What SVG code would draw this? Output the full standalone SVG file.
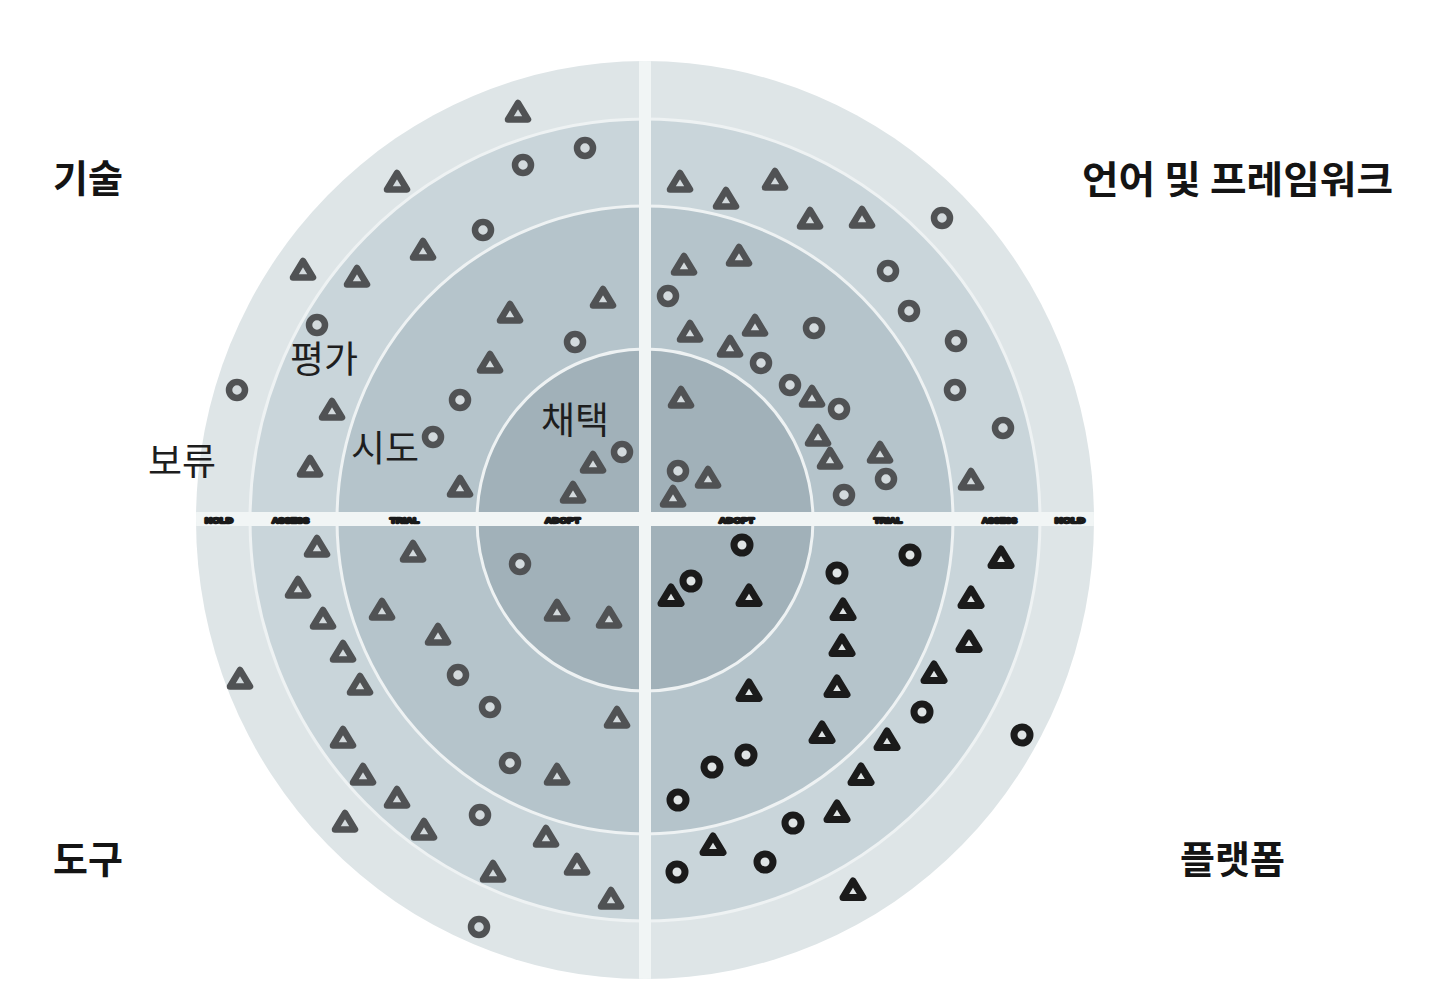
<svg xmlns="http://www.w3.org/2000/svg" xmlns:xlink="http://www.w3.org/1999/xlink" width="1439" height="1006" viewBox="0 0 1439 1006">
<style>
.q{font-family:"Noto Sans CJK KR","Noto Sans",sans-serif;font-weight:700;font-size:38px;fill:#141414}
.r{font-family:"Noto Sans CJK KR","Noto Sans",sans-serif;font-weight:400;font-size:37px;fill:#1e1e1e}
.ax{font-family:"Liberation Sans",Arial,sans-serif;font-weight:700;font-size:8px;fill:#1a1a1a;stroke:#1a1a1a;stroke-width:2.4;stroke-linejoin:round}
.g{fill:#d3dadd;stroke:#505254;stroke-width:6.5;stroke-linejoin:round}
.k{fill:#dfe4e5;stroke:#1b1b1b;stroke-width:7;stroke-linejoin:round}
.sep{fill:none;stroke:#eef2f3;stroke-width:3}
</style>
<defs>
<path id="t" d="M0,-9 L10,7.5 L-10,7.5 Z"/>
<circle id="c" r="8"/>
<clipPath id="disc"><ellipse cx="645" cy="520" rx="449" ry="459"/></clipPath>
</defs>
<rect width="1439" height="1006" fill="#ffffff"/>
<g id="radar">
<ellipse cx="645" cy="520" rx="449" ry="459" fill="#dee5e7"/>
<ellipse cx="645" cy="520" rx="395" ry="401" fill="#c9d5da"/>
<ellipse cx="645" cy="520" rx="308" ry="314" fill="#b5c4cb"/>
<ellipse cx="645" cy="520" rx="168" ry="171" fill="#a1b1b9"/>
<ellipse class="sep" cx="645" cy="520" rx="395" ry="401"/>
<ellipse class="sep" cx="645" cy="520" rx="308" ry="314"/>
<ellipse class="sep" cx="645" cy="520" rx="168" ry="171"/>
<g clip-path="url(#disc)">
<rect x="639" y="50" width="12" height="940" fill="#f1f5f5"/>
<rect x="185" y="512" width="920" height="14" fill="#f1f5f5"/>
</g>
</g>
<g id="axis-labels">
<text class="ax" x="205" y="523" textLength="28" lengthAdjust="spacingAndGlyphs">HOLD</text>
<text class="ax" x="272" y="523" textLength="37" lengthAdjust="spacingAndGlyphs">ASSESS</text>
<text class="ax" x="390" y="523" textLength="29" lengthAdjust="spacingAndGlyphs">TRIAL</text>
<text class="ax" x="545" y="523" textLength="35" lengthAdjust="spacingAndGlyphs">ADOPT</text>
<text class="ax" x="719" y="523" textLength="35" lengthAdjust="spacingAndGlyphs">ADOPT</text>
<text class="ax" x="874" y="523" textLength="28" lengthAdjust="spacingAndGlyphs">TRIAL</text>
<text class="ax" x="982" y="523" textLength="35" lengthAdjust="spacingAndGlyphs">ASSESS</text>
<text class="ax" x="1055" y="523" textLength="30" lengthAdjust="spacingAndGlyphs">HOLD</text>
</g>
<g id="ring-labels">
<text class="r" x="290" y="373">평가</text>
<text class="r" x="148" y="475">보류</text>
<text class="r" x="351" y="462">시도</text>
<text class="r" x="541" y="434">채택</text>
</g>
<g id="quadrant-labels">
<text class="q" x="53" y="192">기술</text>
<text class="q" x="1082" y="193" textLength="311" lengthAdjust="spacingAndGlyphs">언어 및 프레임워크</text>
<text class="q" x="53" y="873">도구</text>
<text class="q" x="1180" y="873">플랫폼</text>
</g>
<g id="techniques">
<use id="b1" xlink:href="#t" class="g" x="518" y="112"/>
<use id="b2" xlink:href="#c" class="g" x="585" y="148"/>
<use id="b3" xlink:href="#c" class="g" x="523" y="165"/>
<use id="b4" xlink:href="#t" class="g" x="397" y="182"/>
<use id="b5" xlink:href="#c" class="g" x="483" y="230"/>
<use id="b6" xlink:href="#t" class="g" x="423" y="250"/>
<use id="b7" xlink:href="#t" class="g" x="303" y="270"/>
<use id="b8" xlink:href="#t" class="g" x="357" y="277"/>
<use id="b9" xlink:href="#t" class="g" x="603" y="298"/>
<use id="b10" xlink:href="#t" class="g" x="510" y="313"/>
<use id="b11" xlink:href="#c" class="g" x="317" y="325"/>
<use id="b12" xlink:href="#c" class="g" x="575" y="342"/>
<use id="b13" xlink:href="#t" class="g" x="490" y="363"/>
<use id="b14" xlink:href="#c" class="g" x="237" y="390"/>
<use id="b15" xlink:href="#c" class="g" x="460" y="400"/>
<use id="b16" xlink:href="#t" class="g" x="332" y="410"/>
<use id="b17" xlink:href="#c" class="g" x="433" y="437"/>
<use id="b18" xlink:href="#c" class="g" x="622" y="452"/>
<use id="b19" xlink:href="#t" class="g" x="593" y="463"/>
<use id="b20" xlink:href="#t" class="g" x="310" y="467"/>
<use id="b21" xlink:href="#t" class="g" x="460" y="487"/>
<use id="b22" xlink:href="#t" class="g" x="573" y="493"/>
</g>
<g id="languages">
<use id="b23" xlink:href="#t" class="g" x="680" y="182"/>
<use id="b24" xlink:href="#t" class="g" x="726" y="199"/>
<use id="b25" xlink:href="#t" class="g" x="775" y="180"/>
<use id="b26" xlink:href="#t" class="g" x="810" y="219"/>
<use id="b27" xlink:href="#t" class="g" x="862" y="218"/>
<use id="b28" xlink:href="#c" class="g" x="942" y="218"/>
<use id="b29" xlink:href="#t" class="g" x="684" y="265"/>
<use id="b30" xlink:href="#t" class="g" x="739" y="256"/>
<use id="b31" xlink:href="#c" class="g" x="888" y="271"/>
<use id="b32" xlink:href="#c" class="g" x="668" y="296"/>
<use id="b33" xlink:href="#c" class="g" x="909" y="311"/>
<use id="b34" xlink:href="#t" class="g" x="690" y="332"/>
<use id="b35" xlink:href="#t" class="g" x="755" y="326"/>
<use id="b36" xlink:href="#c" class="g" x="814" y="328"/>
<use id="b37" xlink:href="#c" class="g" x="956" y="341"/>
<use id="b38" xlink:href="#t" class="g" x="730" y="347"/>
<use id="b39" xlink:href="#c" class="g" x="761" y="363"/>
<use id="b40" xlink:href="#c" class="g" x="790" y="385"/>
<use id="b41" xlink:href="#t" class="g" x="812" y="397"/>
<use id="b42" xlink:href="#c" class="g" x="839" y="409"/>
<use id="b43" xlink:href="#c" class="g" x="955" y="390"/>
<use id="b44" xlink:href="#c" class="g" x="1003" y="428"/>
<use id="b45" xlink:href="#t" class="g" x="681" y="398"/>
<use id="b46" xlink:href="#t" class="g" x="818" y="436"/>
<use id="b47" xlink:href="#t" class="g" x="830" y="459"/>
<use id="b48" xlink:href="#t" class="g" x="880" y="453"/>
<use id="b49" xlink:href="#c" class="g" x="886" y="479"/>
<use id="b50" xlink:href="#c" class="g" x="678" y="471"/>
<use id="b51" xlink:href="#t" class="g" x="708" y="478"/>
<use id="b52" xlink:href="#t" class="g" x="673" y="497"/>
<use id="b53" xlink:href="#t" class="g" x="971" y="480"/>
<use id="b54" xlink:href="#c" class="g" x="844" y="495"/>
</g>
<g id="tools">
<use id="b55" xlink:href="#t" class="g" x="317" y="547"/>
<use id="b56" xlink:href="#t" class="g" x="413" y="552"/>
<use id="b57" xlink:href="#c" class="g" x="520" y="564"/>
<use id="b58" xlink:href="#t" class="g" x="298" y="588"/>
<use id="b59" xlink:href="#t" class="g" x="382" y="610"/>
<use id="b60" xlink:href="#t" class="g" x="323" y="619"/>
<use id="b61" xlink:href="#t" class="g" x="557" y="611"/>
<use id="b62" xlink:href="#t" class="g" x="609" y="618"/>
<use id="b63" xlink:href="#t" class="g" x="438" y="635"/>
<use id="b64" xlink:href="#t" class="g" x="343" y="652"/>
<use id="b65" xlink:href="#c" class="g" x="458" y="675"/>
<use id="b66" xlink:href="#t" class="g" x="360" y="685"/>
<use id="b67" xlink:href="#t" class="g" x="240" y="679"/>
<use id="b68" xlink:href="#c" class="g" x="490" y="707"/>
<use id="b69" xlink:href="#t" class="g" x="617" y="718"/>
<use id="b70" xlink:href="#t" class="g" x="343" y="738"/>
<use id="b71" xlink:href="#c" class="g" x="510" y="763"/>
<use id="b72" xlink:href="#t" class="g" x="557" y="775"/>
<use id="b73" xlink:href="#t" class="g" x="363" y="775"/>
<use id="b74" xlink:href="#t" class="g" x="397" y="798"/>
<use id="b75" xlink:href="#c" class="g" x="480" y="815"/>
<use id="b76" xlink:href="#t" class="g" x="345" y="822"/>
<use id="b77" xlink:href="#t" class="g" x="424" y="830"/>
<use id="b78" xlink:href="#t" class="g" x="546" y="837"/>
<use id="b79" xlink:href="#t" class="g" x="493" y="872"/>
<use id="b80" xlink:href="#t" class="g" x="577" y="865"/>
<use id="b81" xlink:href="#t" class="g" x="611" y="899"/>
<use id="b82" xlink:href="#c" class="g" x="479" y="927"/>
</g>
<g id="platforms">
<use id="b83" xlink:href="#c" class="k" x="742" y="545"/>
<use id="b84" xlink:href="#c" class="k" x="910" y="555"/>
<use id="b85" xlink:href="#t" class="k" x="1001" y="558"/>
<use id="b86" xlink:href="#c" class="k" x="837" y="573"/>
<use id="b87" xlink:href="#c" class="k" x="691" y="581"/>
<use id="b88" xlink:href="#t" class="k" x="671" y="596"/>
<use id="b89" xlink:href="#t" class="k" x="749" y="596"/>
<use id="b90" xlink:href="#t" class="k" x="971" y="598"/>
<use id="b91" xlink:href="#t" class="k" x="843" y="610"/>
<use id="b92" xlink:href="#t" class="k" x="842" y="646"/>
<use id="b93" xlink:href="#t" class="k" x="969" y="642"/>
<use id="b94" xlink:href="#t" class="k" x="934" y="673"/>
<use id="b95" xlink:href="#t" class="k" x="749" y="691"/>
<use id="b96" xlink:href="#t" class="k" x="837" y="687"/>
<use id="b97" xlink:href="#c" class="k" x="922" y="712"/>
<use id="b98" xlink:href="#t" class="k" x="822" y="733"/>
<use id="b99" xlink:href="#t" class="k" x="887" y="740"/>
<use id="b100" xlink:href="#c" class="k" x="1022" y="735"/>
<use id="b101" xlink:href="#c" class="k" x="746" y="755"/>
<use id="b102" xlink:href="#c" class="k" x="712" y="767"/>
<use id="b103" xlink:href="#t" class="k" x="861" y="775"/>
<use id="b104" xlink:href="#c" class="k" x="678" y="800"/>
<use id="b105" xlink:href="#t" class="k" x="837" y="812"/>
<use id="b106" xlink:href="#c" class="k" x="793" y="823"/>
<use id="b107" xlink:href="#t" class="k" x="713" y="845"/>
<use id="b108" xlink:href="#c" class="k" x="765" y="862"/>
<use id="b109" xlink:href="#c" class="k" x="677" y="872"/>
<use id="b110" xlink:href="#t" class="k" x="853" y="890"/>
</g>
</svg>
